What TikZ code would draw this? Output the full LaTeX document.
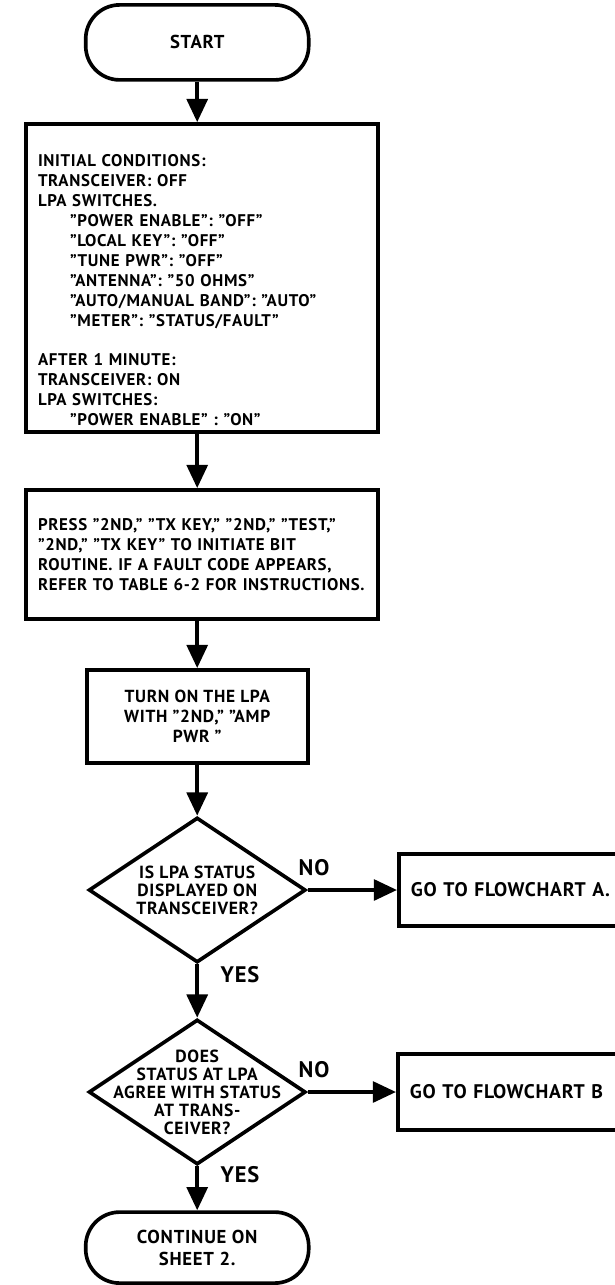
\documentclass[tikz,border=0pt]{standalone}
\usepackage{fontspec}
\setmainfont{PT Sans}[LetterSpace=4]
\usetikzlibrary{arrows.meta,shapes.geometric}

\begin{document}
\begin{tikzpicture}[line width=2.6pt,
		>={Triangle[length=5.8mm,width=5.2mm]},
		txt/.style={font=\bfseries\fontsize{12}{14.2}\selectfont},
		term/.style={draw, rounded corners=0.85cm, minimum width=5.575cm, minimum height=1.875cm, align=center, font=\bfseries\fontsize{13.3}{15.5}\selectfont},
		stepbox/.style={txt, draw, inner xsep=0.3cm, align=left},
		query/.style={draw, diamond, minimum width=5.425cm, minimum height=3.625cm, inner sep=0pt},
		querytxt/.style={align=center, font=\bfseries\fontsize{12.5}{12.8}\selectfont},
		jump/.style={draw, anchor=west, inner xsep=0.3cm, text width=5.9cm, align=left, font=\bfseries\fontsize{14}{16}\selectfont},
		answer/.style={font=\bfseries\fontsize{16}{18}\selectfont}]
		\useasboundingbox (0,0) rectangle (15.35,-32.125);
		% main column
		\node[term] (start) at (4.93,-1.06) {START};
		\node[stepbox, text width=8.2cm, minimum height=7.7cm] (init) at (5.05,-6.95) {\rule{0pt}{26pt}INITIAL CONDITIONS:\\
			TRANSCEIVER: OFF\\
			LPA SWITCHES.\\
			\hspace*{1.9em}”POWER ENABLE”: ”OFF”\\
			\hspace*{1.9em}”LOCAL KEY”: ”OFF”\\
			\hspace*{1.9em}”TUNE PWR”: ”OFF”\\
			\hspace*{1.9em}”ANTENNA”: ”50 OHMS”\\
			\hspace*{1.9em}”AUTO/MANUAL BAND”: ”AUTO”\\
			\hspace*{1.9em}”METER”: ”STATUS/FAULT”\\[14pt]
			AFTER 1 MINUTE:\\
			TRANSCEIVER: ON\\
			LPA SWITCHES:\\
			\hspace*{1.9em}”POWER ENABLE” : ”ON”};
		\node[stepbox, text width=8.2cm, minimum height=3.225cm] (bit) at (5.05,-13.86) {PRESS ”2ND,” ”TX KEY,” ”2ND,” ”TEST,”\\
			”2ND,” ”TX KEY” TO INITIATE BIT\\
			ROUTINE. IF A FAULT CODE APPEARS,\\
			REFER TO TABLE 6-2 FOR INSTRUCTIONS.};
		\node[draw, align=center, minimum width=5.525cm, minimum height=2.325cm, font=\bfseries\fontsize{12.4}{14.2}\selectfont] (lpaon) at (4.93,-17.91) {TURN ON THE LPA\\WITH ”2ND,” ”AMP\\PWR ”};
		\node[query] (q1) at (4.93,-22.25) {};
		\node[querytxt] (q1txt) at (q1) {IS LPA STATUS\\DISPLAYED ON\\TRANSCEIVER?};
		\node[query] (q2) at (4.93,-27.3) {};
		\node[querytxt] (q2txt) at (q2) {DOES\\STATUS AT LPA\\AGREE WITH STATUS\\AT TRANS-\\CEIVER?};
		\node[term, minimum height=1.775cm] (stop) at (4.93,-31.19) {CONTINUE ON\\SHEET 2.};
		% side exits
		\node[jump, minimum height=1.8cm] (gotoA) at (9.925,-22.25) {GO TO FLOWCHART A.};
		\node[jump, minimum height=1.9cm] (gotoB) at (9.9,-27.3) {GO TO FLOWCHART B};
		\node[answer] (no1) at (7.85,-21.7) {NO};
		\node[answer] (yes1) at (6.0,-24.375) {YES};
		\node[answer] (no2) at (7.85,-26.73) {NO};
		\node[answer] (yes2) at (6.0,-29.375) {YES};
		% connectors
		\draw[->] (start.south) -- (start.south |- init.north);
		\draw[->] (start.south |- init.south) -- (start.south |- bit.north);
		\draw[->] (start.south |- bit.south) -- (lpaon.north);
		\draw[->] (lpaon.south) -- (q1.north);
		\draw[->] (q1.south) -- (q2.north);
		\draw[->] (q2.south) -- (stop.north);
		\draw[->] (q1.east) -- (gotoA.west);
		\draw[->] (q2.east) -- (gotoB.west);
\end{tikzpicture}
\end{document}
